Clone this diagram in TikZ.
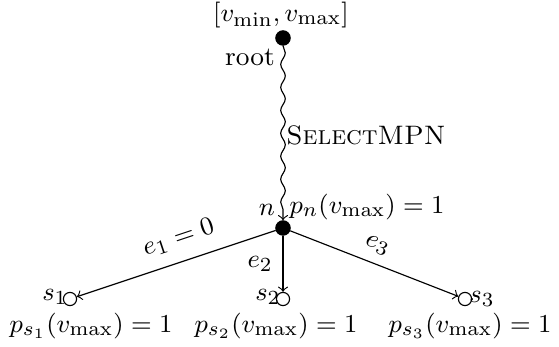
\documentclass[tikz,border=0pt]{standalone}
\usetikzlibrary{decorations.pathmorphing}
\begin{document}
\begin{tikzpicture}[x=0.3484pt,y=-0.3484pt,
  every node/.style={font=\fontsize{9.3pt}{11pt}\selectfont},
  full/.style={circle,fill=black,draw=black,inner sep=0pt,minimum size=5pt},
  empty/.style={circle,draw=black,inner sep=0pt,minimum size=4.6pt},
  txt/.style={inner sep=0pt}]
\useasboundingbox (0,0) rectangle (559,347);
\node[full] (root) at (283,38) {};
\node[full] (n) at (283,228) {};
\node[empty] (s1) at (70,299) {};
\node[empty] (s2) at (283,299) {};
\node[empty] (s3) at (465,299) {};
\node[txt] (rng) at (281,15) {$[v_{\min},v_{\max}]$};
\node[txt] (rootl) at (250,57) {root};
\node[txt] (sel) at (366,135) {\textsc{SelectMPN}};
\node[txt] (nl) at (267,210) {$n$};
\node[txt] (pn) at (367,207) {$p_n(v_{\max})=1$};
\node[txt] (s1l) at (55,297) {$s_1$};
\node[txt] (s2l) at (268,297) {$s_2$};
\node[txt] (s3l) at (482,299) {$s_3$};
\node[txt] (p1) at (91,326) {$p_{s_1}(v_{\max})=1$};
\node[txt] (p2) at (276,326) {$p_{s_2}(v_{\max})=1$};
\node[txt] (p3) at (470,326) {$p_{s_3}(v_{\max})=1$};
\draw[->,decorate,decoration={snake,amplitude=0.8pt,segment length=8pt,post length=3pt}] (root) -- (n);
\draw[->] (n) -- node[sloped,above=1pt,pos=0.45] {$e_1=0$} (s1);
\draw[->] (n) -- node[left,pos=0.5] {$e_2$} (s2);
\draw[->] (n) -- node[sloped,above=0pt,pos=0.48] {$e_3$} (s3);
\end{tikzpicture}
\end{document}
